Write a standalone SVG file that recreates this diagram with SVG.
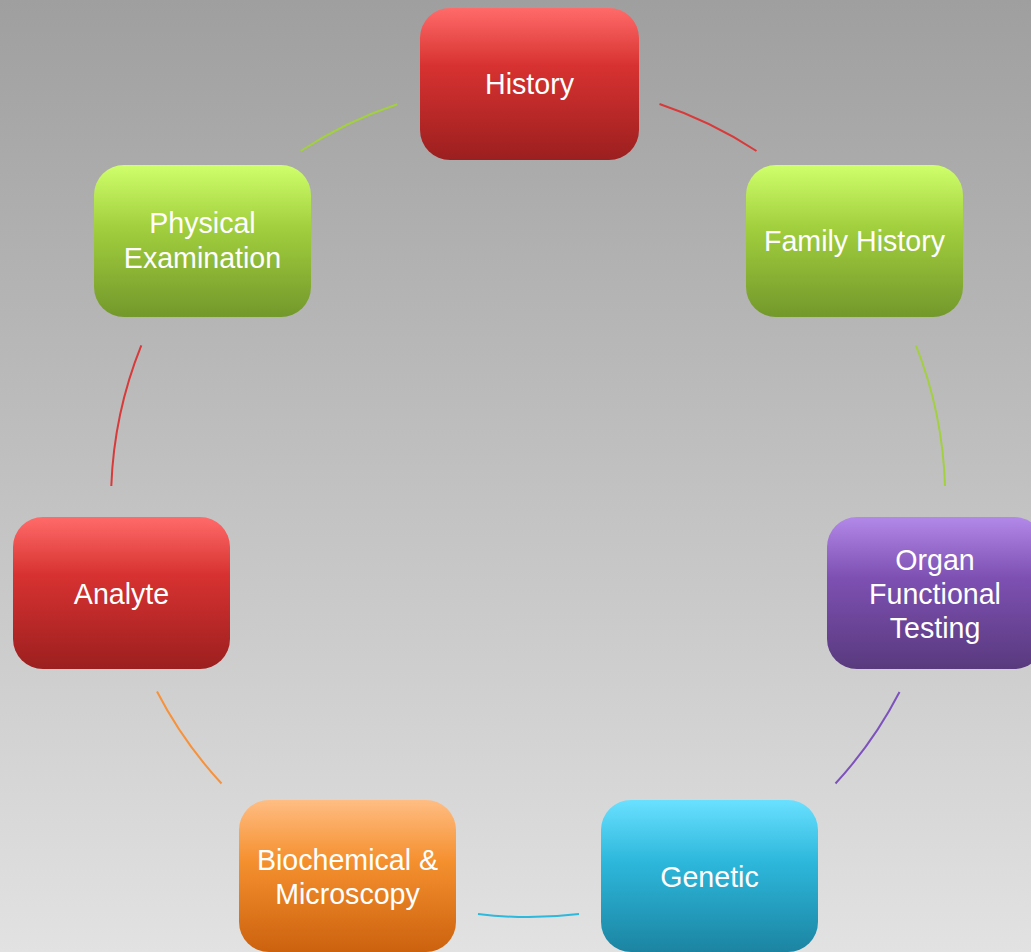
<svg xmlns="http://www.w3.org/2000/svg" width="1031" height="952" viewBox="0 0 1031 952">
<defs>
<linearGradient id="bg" x1="0" y1="0" x2="0" y2="1"><stop offset="0" stop-color="#9f9f9f"/><stop offset="1" stop-color="#e2e2e2"/></linearGradient>
<linearGradient id="red" x1="0" y1="0" x2="0" y2="1"><stop offset="0" stop-color="#ff6b69"/><stop offset="0.38" stop-color="#d73231"/><stop offset="1" stop-color="#9c1f1f"/></linearGradient>
<linearGradient id="green" x1="0" y1="0" x2="0" y2="1"><stop offset="0" stop-color="#d0ff6c"/><stop offset="0.4" stop-color="#a2d03e"/><stop offset="1" stop-color="#73982b"/></linearGradient>
<linearGradient id="purple" x1="0" y1="0" x2="0" y2="1"><stop offset="0" stop-color="#b288e8"/><stop offset="0.4" stop-color="#7d50b2"/><stop offset="1" stop-color="#593a7e"/></linearGradient>
<linearGradient id="cyan" x1="0" y1="0" x2="0" y2="1"><stop offset="0" stop-color="#6ae0ff"/><stop offset="0.4" stop-color="#2db8dc"/><stop offset="1" stop-color="#1c84a2"/></linearGradient>
<linearGradient id="orange" x1="0" y1="0" x2="0" y2="1"><stop offset="0" stop-color="#ffbd83"/><stop offset="0.4" stop-color="#f5902f"/><stop offset="1" stop-color="#cc620e"/></linearGradient>
</defs>
<style>
.box{rx:30px;ry:30px}
.lbl{font-family:"Liberation Sans",Arial,sans-serif;font-size:28.6px;fill:#ffffff;text-anchor:middle}
.c{fill:none;stroke-width:2}
</style>
<rect x="0" y="0" width="1031" height="952" fill="url(#bg)"/>
<g id="connectors">
<path class="c" stroke="#d83a3a" d="M 659.5 104 A 417 417 0 0 1 756.5 151"/>
<path class="c" stroke="#a2d03e" d="M 916 345.5 A 417 417 0 0 1 945 486"/>
<path class="c" stroke="#7e52bd" d="M 899.5 692 A 417 417 0 0 1 835.5 783.5"/>
<path class="c" stroke="#2db8dc" d="M 579 914 A 417 417 0 0 1 478 914"/>
<path class="c" stroke="#f7923a" d="M 221.5 783.5 A 417 417 0 0 1 157 691.5"/>
<path class="c" stroke="#d83a3a" d="M 111.3 486 A 417 417 0 0 1 141.3 345.3"/>
<path class="c" stroke="#a2d03e" d="M 300.7 151 A 417 417 0 0 1 397.3 104.3"/>
</g>
<g id="history"><rect class="box" x="420" y="8" width="219" height="152" fill="url(#red)"/><text class="lbl" x="529.5" y="94">History</text></g>
<g id="family-history"><rect class="box" x="746" y="165" width="217" height="152" fill="url(#green)"/><text class="lbl" x="854.5" y="251">Family History</text></g>
<g id="organ-functional-testing"><rect class="box" x="827" y="517" width="217" height="152" fill="url(#purple)"/><text class="lbl" x="935" y="570">Organ</text><text class="lbl" x="935" y="604">Functional</text><text class="lbl" x="935" y="638">Testing</text></g>
<g id="genetic"><rect class="box" x="601" y="800" width="217" height="152" fill="url(#cyan)"/><text class="lbl" x="709.5" y="887">Genetic</text></g>
<g id="biochemical-microscopy"><rect class="box" x="239" y="800" width="217" height="152" fill="url(#orange)"/><text class="lbl" x="347.5" y="870">Biochemical &amp;</text><text class="lbl" x="347.5" y="904">Microscopy</text></g>
<g id="analyte"><rect class="box" x="13" y="517" width="217" height="152" fill="url(#red)"/><text class="lbl" x="121.5" y="604">Analyte</text></g>
<g id="physical-examination"><rect class="box" x="94" y="165" width="217" height="152" fill="url(#green)"/><text class="lbl" x="202.5" y="233">Physical</text><text class="lbl" x="202.5" y="268">Examination</text></g>
</svg>
